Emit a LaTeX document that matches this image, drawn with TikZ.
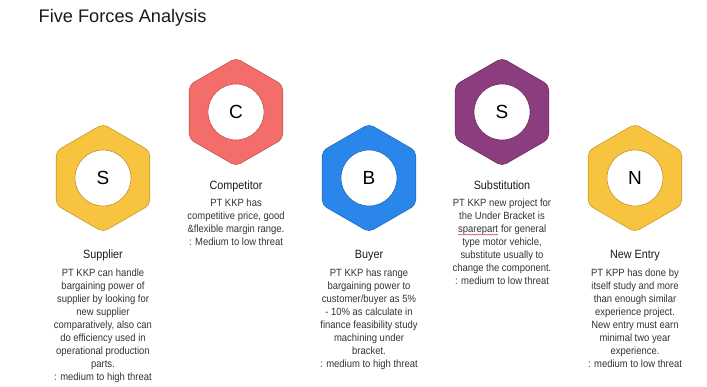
\documentclass[tikz,border=0pt]{standalone}
\usepackage{fontspec}
\setmainfont{Liberation Sans}
\newfontfamily\bodyfont[FakeStretch=0.9]{Liberation Sans}
\usetikzlibrary{decorations.pathmorphing}

% hexagon fills
\definecolor{hexyellow}{HTML}{F8C33E}
\definecolor{hexred}{HTML}{F36D6A}
\definecolor{hexblue}{HTML}{2B86EC}
\definecolor{hexpurple}{HTML}{8B3D80}
\definecolor{inkgray}{HTML}{333333}

% spell-check squiggle under a word
\newcommand\spellwave[1]{\tikz[baseline=(w.base), x=1cm, y=1cm]{%
  \node[inner sep=0pt] (w) {#1};
  \draw[red!50!gray, line width=0.35pt, decorate,
        decoration={snake, amplitude=0.5pt, segment length=2pt}]
    ([yshift=-1.8pt]w.base west) -- ([yshift=-1.8pt]w.base east);}}

\tikzset{
  hexface/.style={line width=0.6pt, rounded corners=5pt},
  lettercircle/.style={circle, fill=white, minimum size=56pt, inner sep=0pt,
    line width=0.6pt, font=\fontsize{19}{19}\selectfont, text=black},
  forcetitle/.style={anchor=base, inner sep=0pt, text=black!90,
    font=\bodyfont\fontsize{12}{12}\selectfont},
  forcebody/.style={anchor=north, inner sep=0pt, align=center, text=inkgray,
    font=\bodyfont\fontsize{10.5}{13}\selectfont},
  heading/.style={anchor=base west, inner sep=0pt, text=black!90,
    font=\fontsize{18.2}{18.2}\selectfont}
}

% one force: centre name, position, colour, letter
\newcommand\forcehex[4]{%
  \coordinate (#1) at #2;
  \fill[hexface, fill=#3, draw=#3!80!black]
    (#1) +(90:54) -- +(150:54) -- +(210:54) -- +(270:54) -- +(330:54) -- +(30:54) -- cycle;
  \node[lettercircle, draw=#3!75!black] (#1-c) at (#1) {#4};
}

\begin{document}
\begin{tikzpicture}[x=1pt, y=-1pt]
  \useasboundingbox (0,0) rectangle (707,387);

  \node[heading] (title) at (38.5,22.7) {Five Forces Analysis};

  % the five hexagons
  \forcehex{sup}{(103,178)}{hexyellow}{S}
  \forcehex{com}{(236,112)}{hexred}{C}
  \forcehex{buy}{(369,178)}{hexblue}{B}
  \forcehex{sub}{(502,112)}{hexpurple}{S}
  \forcehex{new}{(635,178)}{hexyellow}{N}

  % captions
  \node[forcetitle] (sup-t) at (103,259) {Supplier};
  \node[forcebody] (sup-b) at (103,269) {PT KKP can handle\\bargaining power of\\supplier by looking for\\new supplier\\comparatively, also can\\do efficiency used in\\operational production\\parts.\\: medium to high threat};

  \node[forcetitle] (com-t) at (236,190) {Competitor};
  \node[forcebody] (com-b) at (236,199) {PT KKP has\\competitive price, good\\\&flexible margin range.\\: Medium to low threat};

  \node[forcetitle] (buy-t) at (369,259) {Buyer};
  \node[forcebody] (buy-b) at (369,269) {PT KKP has range\\bargaining power to\\customer/buyer as 5\%\\- 10\% as calculate in\\finance feasibility study\\machining under\\bracket.\\: medium to high threat};

  \node[forcetitle] (sub-t) at (502,190) {Substitution};
  \node[forcebody] (sub-b) at (502,199) {PT KKP new project for\\the Under Bracket is\\\spellwave{sparepart} for general\\type motor vehicle,\\substitute usually to\\change the component.\\: medium to low threat};

  \node[forcetitle] (new-t) at (635,259) {New Entry};
  \node[forcebody] (new-b) at (635,269) {PT KPP has done by\\itself study and more\\than enough similar\\experience project.\\New entry must earn\\minimal two year\\experience.\\: medium to low threat};
\end{tikzpicture}
\end{document}
